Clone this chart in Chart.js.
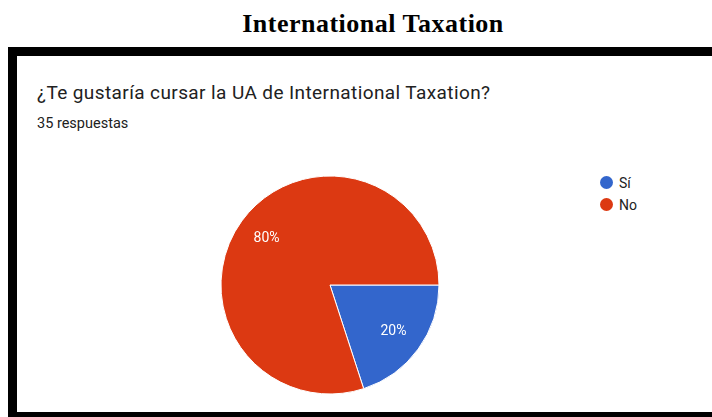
<!DOCTYPE html>
<html>
<head>
<meta charset="utf-8">
<script src="https://cdn.jsdelivr.net/npm/chart.js@4.4.1/dist/chart.umd.min.js"></script>
<style>
  body { margin: 0; background: #fff; width: 712px; height: 417px; overflow: hidden; position: relative; }
  #title { position: absolute; left: 0; width: 746px; top: 11px; text-align: center; letter-spacing: 0.5px;
    font: bold 26px/26px "Liberation Serif", "Times New Roman", serif; color: #000; }
  #box { position: absolute; left: 8px; top: 47px; width: 720px; height: 356px;
    border-left: 9px solid #000; border-top: 9px solid #000; border-bottom: 6px solid #000; }
  #question { position: absolute; left: 37px; top: 83px; font: 19px/19px Roboto, sans-serif; letter-spacing: 0.4px;
    color: #212121; white-space: nowrap; }
  #count { position: absolute; left: 37px; top: 117px; font: 14.5px/14.5px Roboto, sans-serif; color: #212121; white-space: nowrap; }
  #pie { position: absolute; left: 210px; top: 165px; }
  #legend { position: absolute; left: 600px; top: 172px; font: 14px/22px Roboto, sans-serif; color: #222; }
  #legend div { height: 22px; position: relative; padding-left: 19px; white-space: nowrap; }
  #legend span { position: absolute; left: 0; top: 4px; width: 13px; height: 13px; border-radius: 50%; }
</style>
</head>
<body>
<div id="title">International Taxation</div>
<div id="box"></div>
<div id="question">¿Te gustaría cursar la UA de International Taxation?</div>
<div id="count">35 respuestas</div>
<canvas id="pie" width="240" height="240"></canvas>
<div id="legend"></div>
<script>
// respuestas
const answerLabels = ["Sí", "No"];
const answerCounts = [7, 28];
const answerColors = ["#3366cc", "#dc3912"];
const totalAnswers = 35;

// legend
const legendEl = document.getElementById("legend");
answerLabels.forEach((label, i) => {
  const row = document.createElement("div");
  row.innerHTML = '<span style="background:' + answerColors[i] + '"></span>' + label;
  legendEl.appendChild(row);
});

// percent labels inside the slices
const sliceLabels = {
  id: "sliceLabels",
  afterDatasetsDraw(chart) {
    const ctx = chart.ctx;
    const meta = chart.getDatasetMeta(0);
    ctx.save();
    ctx.fillStyle = "#fff";
    ctx.font = "14px Roboto, sans-serif";
    ctx.textAlign = "center";
    ctx.textBaseline = "middle";
    meta.data.forEach((arc, i) => {
      const p = arc.getProps(["x", "y", "startAngle", "endAngle", "outerRadius"], true);
      const mid = (p.startAngle + p.endAngle) / 2;
      const r = p.outerRadius * 0.72;
      const pct = Math.round((answerCounts[i] / totalAnswers) * 100) + "%";
      ctx.fillText(pct, p.x + Math.cos(mid) * r, p.y + Math.sin(mid) * r);
    });
    ctx.restore();
  },
};

const pieCtx = document.getElementById("pie").getContext("2d");
new Chart(pieCtx, {
  type: "pie",
  data: {
    labels: answerLabels,
    datasets: [
      {
        data: answerCounts,
        backgroundColor: answerColors,
        borderColor: "#ffffff",
        borderWidth: 1,
      },
    ],
  },
  options: {
    responsive: false,
    animation: false,
    rotation: 90,
    radius: 109,
    plugins: {
      legend: { display: false },
      tooltip: { enabled: false },
    },
  },
  plugins: [sliceLabels],
});
</script>
</body>
</html>
